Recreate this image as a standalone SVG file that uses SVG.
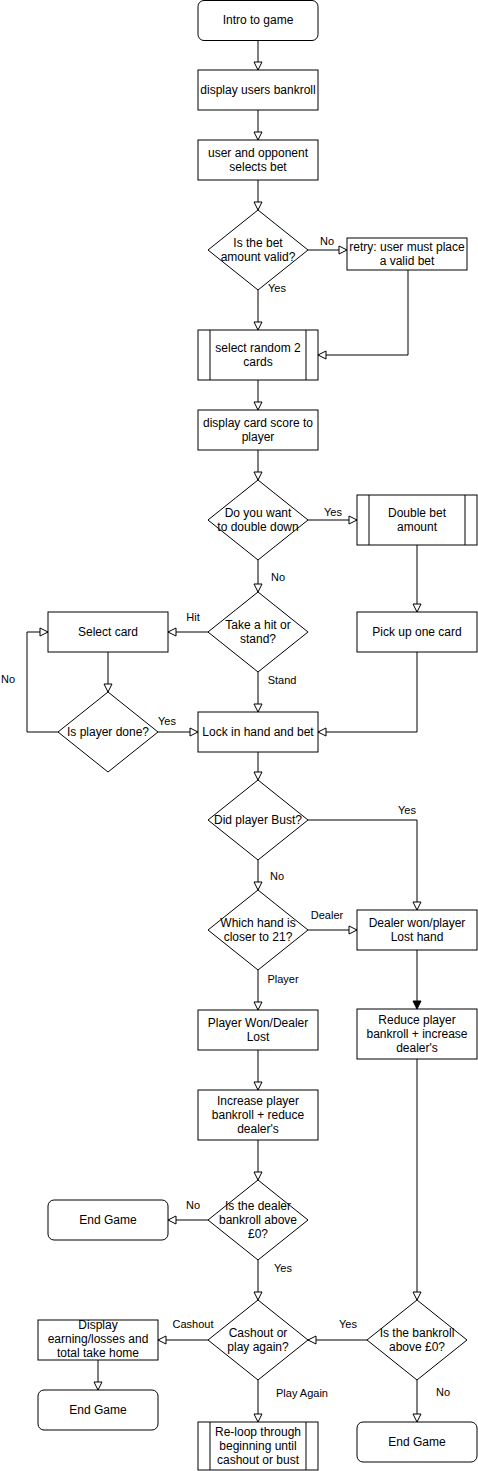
<svg xmlns="http://www.w3.org/2000/svg" width="478" height="1471" viewBox="0 0 478 1471">
<style>
.n{fill:#fff;stroke:#000;stroke-width:1}
.t{font-family:"Liberation Sans",Arial,sans-serif;font-size:12px;fill:#000;text-anchor:middle}
.l{font-family:"Liberation Sans",Arial,sans-serif;font-size:11px;fill:#000;text-anchor:middle}
.c{fill:none;stroke:#000;stroke-width:1;marker-end:url(#a)}
.cf{fill:none;stroke:#000;stroke-width:1;marker-end:url(#f)}
</style>
<defs>
<marker id="a" viewBox="0 0 10 10" refX="9" refY="5" markerWidth="10" markerHeight="10" markerUnits="userSpaceOnUse" orient="auto">
<path d="M1,1 L9,5 L1,9 z" fill="#fff" stroke="#000" stroke-width="1"/>
</marker>
<marker id="f" viewBox="0 0 10 10" refX="9" refY="5" markerWidth="10" markerHeight="10" markerUnits="userSpaceOnUse" orient="auto">
<path d="M1,1 L9,5 L1,9 z" fill="#000" stroke="#000" stroke-width="1"/>
</marker>
</defs>
<rect width="478" height="1471" fill="#fff"/>
<g id="connectors">
<path class="c" d="M258,40 V70"/>
<path class="c" d="M258,110 V140"/>
<path class="c" d="M258,180 V210"/>
<path class="c" d="M308,250 H347"/>
<path class="c" d="M258,290 V330"/>
<path class="c" d="M408,270 V355 H318"/>
<path class="c" d="M258,380 V410"/>
<path class="c" d="M258,450 V480"/>
<path class="c" d="M308,520 H357"/>
<path class="c" d="M258,560 V592"/>
<path class="c" d="M417,545 V612"/>
<path class="c" d="M208,632 H168"/>
<path class="c" d="M108,652 V692"/>
<path class="c" d="M58,732 H27 V632 H48"/>
<path class="c" d="M158,732 H198"/>
<path class="c" d="M258,672 V712"/>
<path class="c" d="M417,652 V732 H318"/>
<path class="c" d="M258,752 V780"/>
<path class="c" d="M308,820 H417 V910"/>
<path class="c" d="M258,860 V890"/>
<path class="c" d="M308,930 H357"/>
<path class="c" d="M258,970 V1010"/>
<path class="cf" d="M417,950 V1009"/>
<path class="c" d="M258,1050 V1090"/>
<path class="c" d="M258,1140 V1180"/>
<path class="c" d="M417,1059 V1300"/>
<path class="c" d="M208,1220 H168"/>
<path class="c" d="M258,1260 V1300"/>
<path class="c" d="M367,1340 H308"/>
<path class="c" d="M208,1340 H158"/>
<path class="c" d="M98,1360 V1390"/>
<path class="c" d="M258,1380 V1422"/>
<path class="c" d="M417,1380 V1422"/>
<text class="l" x="327" y="245">No</text>
<text class="l" x="277" y="292">Yes</text>
<text class="l" x="333" y="516">Yes</text>
<text class="l" x="278" y="581">No</text>
<text class="l" x="193" y="621">Hit</text>
<text class="l" x="282" y="684">Stand</text>
<text class="l" x="8" y="683">No</text>
<text class="l" x="167" y="725">Yes</text>
<text class="l" x="407" y="814">Yes</text>
<text class="l" x="277" y="880">No</text>
<text class="l" x="327" y="919">Dealer</text>
<text class="l" x="283" y="983">Player</text>
<text class="l" x="193" y="1209">No</text>
<text class="l" x="283" y="1272">Yes</text>
<text class="l" x="193" y="1328">Cashout</text>
<text class="l" x="348" y="1328">Yes</text>
<text class="l" x="302" y="1397">Play Again</text>
<text class="l" x="443" y="1396">No</text>
</g>
<g id="intro"><rect class="n" x="198" y="0.5" width="120" height="40" rx="6"/><text class="t" x="258" y="24">Intro to game</text></g>
<g id="bankroll"><rect class="n" x="198" y="70" width="120" height="40"/><text class="t" x="258" y="94">display users bankroll</text></g>
<g id="selectbet"><rect class="n" x="198" y="140" width="120" height="40"/><text class="t" x="258" y="157">user and opponent</text><text class="t" x="258" y="171">selects bet</text></g>
<g id="valid"><polygon class="n" points="258,210 308,250 258,290 208,250"/><text class="t" x="258" y="247">Is the bet</text><text class="t" x="258" y="261">amount valid?</text></g>
<g id="retry"><rect class="n" x="347" y="238" width="120" height="32"/><text class="t" x="407" y="251">retry: user must place</text><text class="t" x="407" y="265">a valid bet</text></g>
<g id="random"><rect class="n" x="198" y="330" width="120" height="50"/><path d="M210,330 V380 M306,330 V380" stroke="#000" fill="none"/><text class="t" x="258" y="352">select random 2</text><text class="t" x="258" y="366">cards</text></g>
<g id="score"><rect class="n" x="198" y="410" width="120" height="40"/><text class="t" x="258" y="427">display card score to</text><text class="t" x="258" y="441">player</text></g>
<g id="doubledown"><polygon class="n" points="258,480 308,520 258,560 208,520"/><text class="t" x="258" y="517">Do you want</text><text class="t" x="258" y="531">to double down</text></g>
<g id="doublebet"><rect class="n" x="357" y="495" width="120" height="50"/><path d="M369,495 V545 M465,495 V545" stroke="#000" fill="none"/><text class="t" x="417" y="517">Double bet</text><text class="t" x="417" y="531">amount</text></g>
<g id="hitstand"><polygon class="n" points="258,592 308,632 258,672 208,632"/><text class="t" x="258" y="629">Take a hit or</text><text class="t" x="258" y="643">stand?</text></g>
<g id="selectcard"><rect class="n" x="48" y="612" width="120" height="40"/><text class="t" x="108" y="636">Select card</text></g>
<g id="pickup"><rect class="n" x="357" y="612" width="120" height="40"/><text class="t" x="417" y="636">Pick up one card</text></g>
<g id="done"><polygon class="n" points="108,692 158,732 108,772 58,732"/><text class="t" x="108" y="736">Is player done?</text></g>
<g id="lock"><rect class="n" x="198" y="712" width="120" height="40"/><text class="t" x="258" y="736">Lock in hand and bet</text></g>
<g id="bust"><polygon class="n" points="258,780 308,820 258,860 208,820"/><text class="t" x="258" y="824">Did player Bust?</text></g>
<g id="closer"><polygon class="n" points="258,890 308,930 258,970 208,930"/><text class="t" x="258" y="927">Which hand is</text><text class="t" x="258" y="941">closer to 21?</text></g>
<g id="dealerwon"><rect class="n" x="357" y="910" width="120" height="40"/><text class="t" x="417" y="927">Dealer won/player</text><text class="t" x="417" y="941">Lost hand</text></g>
<g id="playerwon"><rect class="n" x="198" y="1010" width="120" height="40"/><text class="t" x="258" y="1027">Player Won/Dealer</text><text class="t" x="258" y="1041">Lost</text></g>
<g id="reduce"><rect class="n" x="357" y="1009" width="120" height="50"/><text class="t" x="417" y="1024">Reduce player</text><text class="t" x="417" y="1038">bankroll + increase</text><text class="t" x="417" y="1052">dealer's</text></g>
<g id="increase"><rect class="n" x="198" y="1090" width="120" height="50"/><text class="t" x="258" y="1105">Increase player</text><text class="t" x="258" y="1119">bankroll + reduce</text><text class="t" x="258" y="1133">dealer's</text></g>
<g id="dealerbank"><polygon class="n" points="258,1180 308,1220 258,1260 208,1220"/><text class="t" x="258" y="1210">Is the dealer</text><text class="t" x="258" y="1224">bankroll above</text><text class="t" x="258" y="1238">£0?</text></g>
<g id="end1"><rect class="n" x="48" y="1200" width="120" height="40" rx="6"/><text class="t" x="108" y="1224">End Game</text></g>
<g id="cashout"><polygon class="n" points="258,1300 308,1340 258,1380 208,1340"/><text class="t" x="258" y="1337">Cashout or</text><text class="t" x="258" y="1351">play again?</text></g>
<g id="playerbank"><polygon class="n" points="417,1300 467,1340 417,1380 367,1340"/><text class="t" x="417" y="1337">Is the bankroll</text><text class="t" x="417" y="1351">above £0?</text></g>
<g id="display"><rect class="n" x="38" y="1320" width="120" height="40"/><text class="t" x="98" y="1329">Display</text><text class="t" x="98" y="1343">earning/losses and</text><text class="t" x="98" y="1357">total take home</text></g>
<g id="end2"><rect class="n" x="38" y="1390" width="120" height="40" rx="6"/><text class="t" x="98" y="1414">End Game</text></g>
<g id="reloop"><rect class="n" x="198" y="1422" width="120" height="48"/><path d="M210,1422 V1470 M306,1422 V1470" stroke="#000" fill="none"/><text class="t" x="258" y="1436">Re-loop through</text><text class="t" x="258" y="1450">beginning until</text><text class="t" x="258" y="1464">cashout or bust</text></g>
<g id="end3"><rect class="n" x="357" y="1422" width="120" height="40" rx="6"/><text class="t" x="417" y="1446">End Game</text></g>
</svg>
